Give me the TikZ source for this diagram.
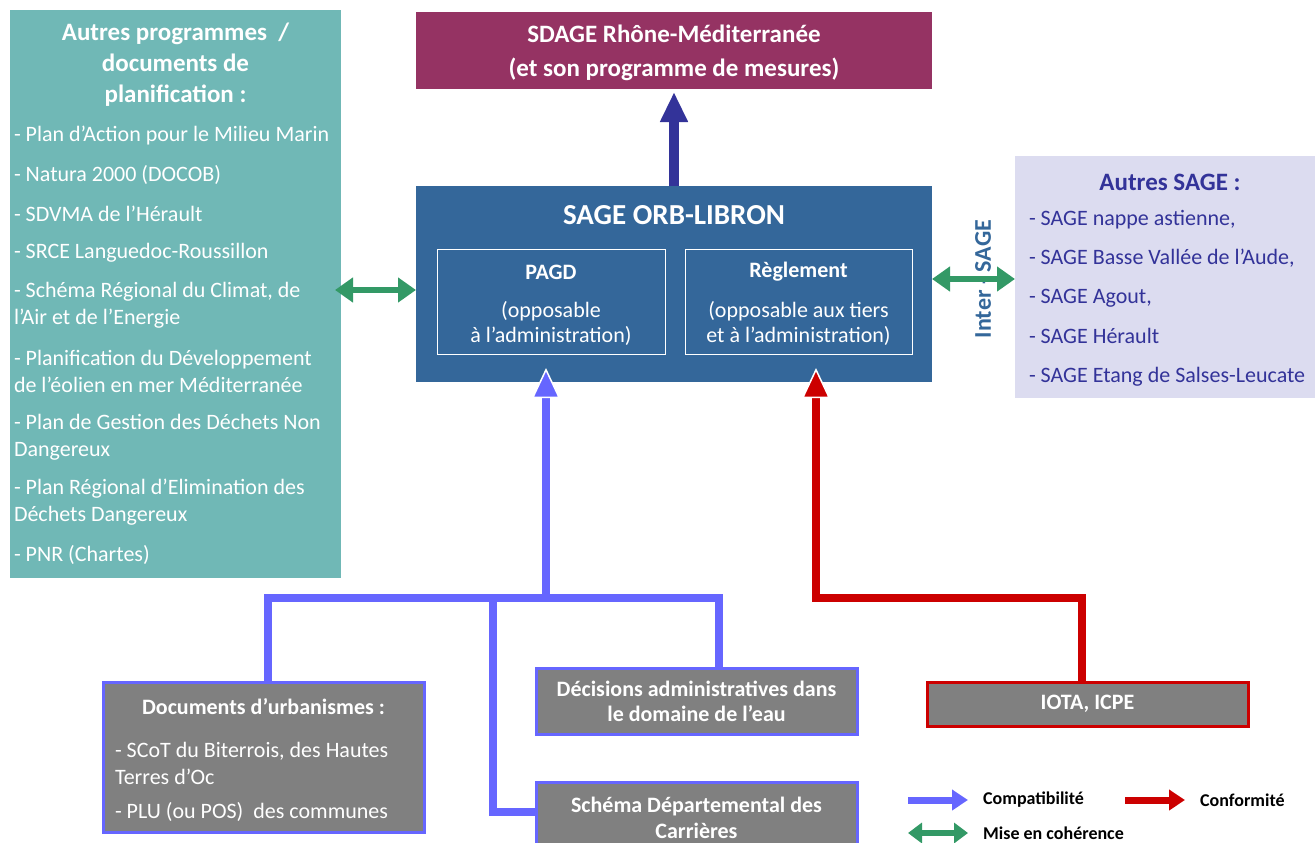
\documentclass[tikz,border=0pt]{standalone}
\usepackage{fontspec}
\setmainfont{Carlito}
\usetikzlibrary{arrows.meta}
\definecolor{tealbg}{RGB}{112,184,182}
\definecolor{sdagec}{RGB}{149,51,99}
\definecolor{sagec}{RGB}{52,103,154}
\definecolor{navyc}{RGB}{51,51,153}
\definecolor{lavc}{RGB}{220,220,240}
\definecolor{compc}{RGB}{102,102,255}
\definecolor{confc}{RGB}{204,0,0}
\definecolor{greenc}{RGB}{51,153,102}
\definecolor{grayc}{RGB}{128,128,128}
\tikzset{
    box/.style={rectangle,inner sep=0pt,outer sep=0pt},
    txt/.style={inner sep=0pt,outer sep=0pt,text=white},
    item/.style={txt,anchor=west,align=left,font=\fontsize{22}{27}\selectfont},
    sitem/.style={item,text=navyc,text height=16pt,text depth=5pt},
    gbox/.style={box,fill=grayc,draw=compc,line width=3pt,text=white,align=center,
        font=\bfseries\fontsize{22}{25}\selectfont},
    gtxt/.style={txt,align=center,font=\bfseries\fontsize{22}{26}\selectfont},
    compline/.style={compc,line width=8pt,line join=miter},
    compat/.style={compline,-{Triangle[width=28pt,length=30pt,fill=compc,color=white,line width=1.5pt]}},
    confline/.style={confc,line width=8pt,line join=miter},
    conf/.style={confline,-{Triangle[width=28pt,length=30pt,fill=confc,color=white,line width=1.5pt]}},
    mise/.style={greenc,line width=6pt,{Triangle[width=24pt,length=18pt]}-{Triangle[width=24pt,length=18pt]}},
    legend/.style={inner sep=0pt,anchor=west,font=\bfseries\fontsize{18}{20}\selectfont},
}

\begin{document}
\begin{tikzpicture}[x=1pt,y=-1pt]
\useasboundingbox (0,0) rectangle (1315,843);
% boxes
\node[box,fill=tealbg,minimum width=331pt,minimum height=568pt] (autres) at (175.5,294) {};
\node[box,fill=sdagec,minimum width=516pt,minimum height=77pt] (sdage) at (674,50.5) {};
\node[box,fill=sagec,minimum width=516pt,minimum height=196pt] (sage) at (674,284) {};
\node[box,draw=white,line width=0.8pt,minimum width=228pt,minimum height=105pt] (pagd) at (551,301.5) {};
\node[box,draw=white,line width=0.8pt,minimum width=227pt,minimum height=105pt] (regl) at (798.5,301.5) {};
\node[box,fill=lavc,minimum width=300pt,minimum height=242pt] (lav) at (1165,277) {};
\node[gbox,minimum width=321pt,minimum height=150pt] (doc) at (263.5,757) {};
\node[gbox,minimum width=321pt,minimum height=66pt] (dec) at (696.5,701)
    {Décisions administratives dans\\le domaine de l’eau};
\node[gbox,minimum width=321pt,minimum height=76pt] (sch) at (696.5,820) {};
\node[gbox,draw=confc,minimum width=321pt,minimum height=44pt] (iota) at (1087.5,704) {IOTA, ICPE};

% texts
\node[txt,align=center,font=\bfseries\fontsize{25}{34}\selectfont] (sdaget) at (674,53)
    {SDAGE Rhône-Méditerranée\\(et son programme de mesures)};
\node[txt,align=center,font=\bfseries\fontsize{25}{31}\selectfont] (autt) at (175.5,65)
    {Autres programmes\ \ /\\documents de\\planification :};
\foreach \n/\y/\t in {a1/136/{- Plan d’Action pour le Milieu Marin},
    a2/175/{- Natura 2000 (DOCOB)},
    a3/214/{- SDVMA de l’Hérault},
    a4/253/{- SRCE Languedoc-Roussillon},
    a5/305.5/{- Schéma Régional du Climat, de\\l’Air et de l’Energie},
    a6/371.5/{- Planification du Développement\\de l’éolien en mer Méditerranée},
    a7/437/{- Plan de Gestion des Déchets Non\\Dangereux},
    a8/502.5/{- Plan Régional d’Elimination des\\Déchets Dangereux},
    a9/555/{- PNR (Chartes)}}
    \node[item] (\n) at (14,\y) {\t};
\node[txt,font=\bfseries\fontsize{29}{32}\selectfont] (saget) at (674,215) {SAGE ORB-LIBRON};
\node[txt,font=\bfseries\fontsize{22}{25}\selectfont] (pagdt) at (551,272) {PAGD};
\node[txt,align=center,font=\fontsize{22}{25}\selectfont] (pagdx) at (551,323.5)
    {(opposable\\à l’administration)};
\node[txt,font=\bfseries\fontsize{22}{25}\selectfont] (reglt) at (798.5,272) {Règlement};
\node[txt,align=center,font=\fontsize{22}{25}\selectfont] (reglx) at (798.5,323.5)
    {(opposable aux tiers\\et à l’administration)};
\node[txt,text=sagec,rotate=90,font=\bfseries\fontsize{24}{26}\selectfont] (inter) at (983,279) {Inter - SAGE};
\node[txt,text=navyc,font=\bfseries\fontsize{25}{28}\selectfont] (lavt) at (1170,182) {Autres SAGE :};
\foreach \n/\y/\t in {s1/220/{- SAGE nappe astienne,},
    s2/259/{- SAGE Basse Vallée de l’Aude,},
    s3/298/{- SAGE Agout,},
    s4/338/{- SAGE Hérault},
    s5/377/{- SAGE Etang de Salses-Leucate}}
    \node[sitem] (\n) at (1029,\y) {\t};
\node[gtxt] (doct) at (263.5,707) {Documents d’urbanismes :};
\node[item] (d1) at (115,763) {- SCoT du Biterrois, des Hautes\\Terres d’Oc};
\node[item] (d2) at (115,812) {- PLU (ou POS)\ \ des communes};
\node[gtxt] (scht) at (696.5,818) {Schéma Départemental des\\Carrières};

% connectors
\draw[navyc,line width=10pt,-{Triangle[width=26pt,length=30pt]},shorten >=3pt] (sage.north) -- (sdage.south);
\draw[mise,shorten <=-6pt] ([yshift=4pt]autres.east) -- ([yshift=4pt]autres.east -| sage.west);
\draw[mise] ([yshift=5pt]sage.east) -- ([yshift=5pt]sage.east -| lav.west);
\coordinate (jb) at (546,598);
\coordinate (jl) at (268,598);
\coordinate (jm) at (493,598);
\coordinate (jr) at (719,598);
\draw[compline] (jl |- doc.north) -- (jl) -- (jr) -- (jr |- dec.north);
\draw[compline] (jm) -- (jm |- 0,812) -- (jm |- 0,812 -| sch.west);
\draw[compat,shorten >=-14pt] (jb) -- (jb |- sage.south);
\coordinate (jc) at (1082,598);
\coordinate (jd) at (816,598);
\draw[conf,shorten >=-14pt] (jc |- iota.north) -- (jc) -- (jd) -- (jd |- sage.south);

% legend
\coordinate (l1) at (908,800);
\coordinate (l2) at (1125,800);
\coordinate (l3) at (908,833);
\draw[compc,line width=7pt,-{Triangle[width=20pt,length=16pt]}] (l1) -- ++(60,0);
\node[legend] (lc) at (983,800) {Compatibilité};
\draw[confc,line width=7pt,-{Triangle[width=20pt,length=16pt]}] (l2) -- ++(60,0);
\node[legend] (lf) at (1200,800) {Conformité};
\draw[greenc,line width=6pt,{Triangle[width=20pt,length=14pt]}-{Triangle[width=20pt,length=14pt]}] (l3) -- ++(60,0);
\node[legend] (lm) at (983,833) {Mise en cohérence};
\end{tikzpicture}
\end{document}
